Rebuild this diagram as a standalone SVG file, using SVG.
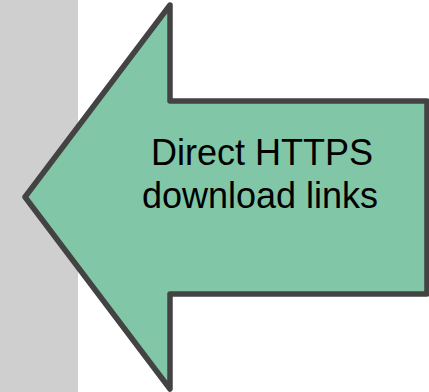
<svg xmlns="http://www.w3.org/2000/svg" width="429" height="392" viewBox="0 0 429 392">
<style>
.lbl{font-family:"Liberation Sans",Arial,sans-serif;font-size:36px;fill:#000;text-anchor:middle}
</style>
<rect width="429" height="392" fill="#fff"/>
<rect id="sidebar" x="0" y="0" width="78" height="392" fill="#cfcfcf"/>
<g id="arrow">
<path d="M427,101 L170,101 L170,5 L25,197 L170,389 L170,294 L427,294 Z" fill="#81c6a6" stroke="#434343" stroke-width="5.5" stroke-linejoin="round"/>
<text class="lbl" x="262" y="165">Direct HTTPS</text>
<text class="lbl" x="260" y="208">download links</text>
</g>
</svg>
